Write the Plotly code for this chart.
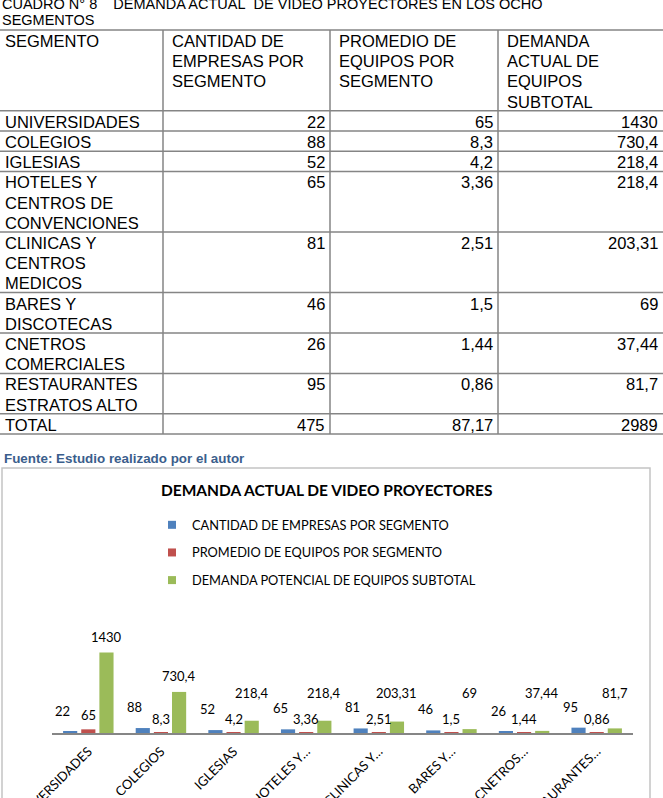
import plotly.graph_objects as go

W, H = 663, 798
B_MARGIN = 65
PLOT_H = H - B_MARGIN

# --- datos ---
SEGMENTOS_TABLA = [
    "UNIVERSIDADES",
    "COLEGIOS",
    "IGLESIAS",
    "HOTELES Y<br>CENTROS DE<br>CONVENCIONES",
    "CLINICAS Y<br>CENTROS<br>MEDICOS",
    "BARES Y<br>DISCOTECAS",
    "CNETROS<br>COMERCIALES",
    "RESTAURANTES<br>ESTRATOS ALTO",
]
SEGMENTOS_EJE = [
    "UNIVERSIDADES",
    "COLEGIOS",
    "IGLESIAS",
    "HOTELES Y…",
    "CLINICAS Y…",
    "BARES Y…",
    "CNETROS…",
    "RESTAURANTES…",
]
EMPRESAS = [22, 88, 52, 65, 81, 46, 26, 95]
PROMEDIO = [65, 8.3, 4.2, 3.36, 2.51, 1.5, 1.44, 0.86]
DEMANDA = [1430, 730.4, 218.4, 218.4, 203.31, 69, 37.44, 81.7]
TOTALES = [475, 87.17, 2989]

ENCABEZADOS = [
    "SEGMENTO",
    "CANTIDAD DE<br>EMPRESAS POR<br>SEGMENTO",
    "PROMEDIO DE<br>EQUIPOS POR<br>SEGMENTO",
    "DEMANDA<br>ACTUAL DE<br>EQUIPOS<br>SUBTOTAL",
]
SERIES = [
    "CANTIDAD DE EMPRESAS POR SEGMENTO",
    "PROMEDIO DE EQUIPOS POR SEGMENTO",
    "DEMANDA POTENCIAL DE EQUIPOS SUBTOTAL",
]
COLORES = ["#4F81BD", "#C0504D", "#9BBB59"]

TABLE_FONT = "Liberation Sans, Arial, sans-serif"
CHART_FONT = "Lato, Carlito, Calibri, sans-serif"


def fmt(v):
    return f"{v:g}".replace(".", ",")


def px(x):
    return x / W


def py(y):
    return (PLOT_H - y) / PLOT_H


fig = go.Figure()

valores = [EMPRESAS, PROMEDIO, DEMANDA]
for name, serie, color in zip(SERIES, valores, COLORES):
    fig.add_trace(
        go.Bar(
            x=SEGMENTOS_EJE,
            y=serie,
            name=name,
            showlegend=False,
            marker=dict(color=color, line=dict(width=0)),
        )
    )
# entradas de leyenda con cuadritos pequeños
for i, (name, color) in enumerate(zip(SERIES, COLORES)):
    fig.add_trace(
        go.Scatter(
            x=[None], y=[None], mode="markers", name=name, legendgroup=str(i),
            marker=dict(symbol="square", size=8, color=color),
        )
    )

annotations = []
shapes = []

# etiquetas de datos (Excel las separa de la base cuando la barra es baja)
offsets = [-26, 0, 18]
yshifts = [11, 4, 6]
pisos = [0, 0, 430]
for serie, dx, dy, piso in zip(valores, offsets, yshifts, pisos):
    for cat, v in zip(SEGMENTOS_EJE, serie):
        annotations.append(
            dict(
                x=cat, y=max(v, piso), xref="x", yref="y", text=fmt(v), showarrow=False,
                xshift=dx, yshift=dy, yanchor="bottom",
                font=dict(family=CHART_FONT, size=13, color="#000000"),
            )
        )

# --- tabla ---
cols = [0, 163, 330, 498, 663]
LINE = 20.2
top = 30
filas = [ENCABEZADOS]
for seg, e, p, d in zip(SEGMENTOS_TABLA, EMPRESAS, PROMEDIO, DEMANDA):
    filas.append([seg, fmt(e), fmt(p), fmt(d)])
filas.append(["TOTAL"] + [fmt(t) for t in TOTALES])

y = top
bordes = [y]
for r, fila in enumerate(filas):
    n = max(c.count("<br>") + 1 for c in fila)
    for c, txt in enumerate(fila):
        if r == 0 or c == 0:
            x, anchor = cols[c] + (3 if c == 0 else 7), "left"
        else:
            x, anchor = cols[c + 1] - 3, "right"
        for k, linea in enumerate(txt.split("<br>")):
            annotations.append(
                dict(
                    x=px(x), y=py(y + 11 + k * LINE), xref="paper", yref="paper", text=linea,
                    showarrow=False, xanchor=anchor, yanchor="middle",
                    font=dict(family=TABLE_FONT, size=16.5, color="#000000"),
                )
            )
    y += n * LINE
    bordes.append(y)

for yy in bordes:
    shapes.append(dict(type="line", xref="paper", yref="paper", x0=0, x1=1,
                       y0=py(yy), y1=py(yy), line=dict(color="#858585", width=1.5)))
for xx in cols[1:-1]:
    shapes.append(dict(type="line", xref="paper", yref="paper", x0=px(xx), x1=px(xx),
                       y0=py(bordes[0]), y1=py(bordes[-1]), line=dict(color="#858585", width=1.5)))

# titulo del cuadro
caption = [
    "CUADRO N° 8\u00a0\u00a0\u00a0 DEMANDA ACTUAL\u00a0 DE VIDEO PROYECTORES EN LOS OCHO",
    "SEGMENTOS",
]
for k, linea in enumerate(caption):
    annotations.append(
        dict(x=0, y=py(4 + 16 * k), xref="paper", yref="paper", xanchor="left", yanchor="middle",
             showarrow=False, text=linea,
             font=dict(family=TABLE_FONT, size=14.5, color="#000000"))
    )
annotations.append(
    dict(x=px(2), y=py(459), xref="paper", yref="paper", xanchor="left", yanchor="middle",
         showarrow=False, text="<b>Fuente: Estudio realizado por el autor</b>",
         font=dict(family=TABLE_FONT, size=13.4, color="#3B5E8C"))
)
annotations.append(
    dict(x=px(326), y=py(490), xref="paper", yref="paper", xanchor="center", yanchor="middle",
         showarrow=False, text="<b>DEMANDA ACTUAL DE VIDEO PROYECTORES</b>",
         font=dict(family=CHART_FONT, size=15.5, color="#000000"))
)

# marco del grafico
shapes.append(dict(type="rect", xref="paper", yref="paper", x0=px(2), x1=px(650),
                   y0=py(805), y1=py(468), line=dict(color="#c4c4c4", width=1.5)))

fig.update_layout(
    width=W,
    height=H,
    margin=dict(l=0, r=0, t=0, b=B_MARGIN, pad=0),
    paper_bgcolor="white",
    plot_bgcolor="white",
    barmode="group",
    bargap=0.25,
    bargroupgap=0.22,
    showlegend=True,
    legend=dict(
        x=px(152), y=py(510), xanchor="left", yanchor="top",
        font=dict(family=CHART_FONT, size=12.8, color="#000000"),
        tracegroupgap=8, bgcolor="rgba(0,0,0,0)", itemwidth=30,
    ),
    xaxis=dict(
        domain=[px(52), px(633)], type="category", tickangle=-45,
        showline=True, linecolor="#868686", linewidth=1.5, ticks="",
        showgrid=False, automargin=False, ticklabelstandoff=4,
        tickfont=dict(family=CHART_FONT, size=13, color="#000000"),
    ),
    yaxis=dict(domain=[0, 90 / PLOT_H], range=[0, 1600], visible=False, showgrid=False),
    annotations=annotations,
    shapes=shapes,
)

fig.write_html(
    "out.html",
    config={"displayModeBar": False},
    post_script="document.body.style.margin='0px';",
)
